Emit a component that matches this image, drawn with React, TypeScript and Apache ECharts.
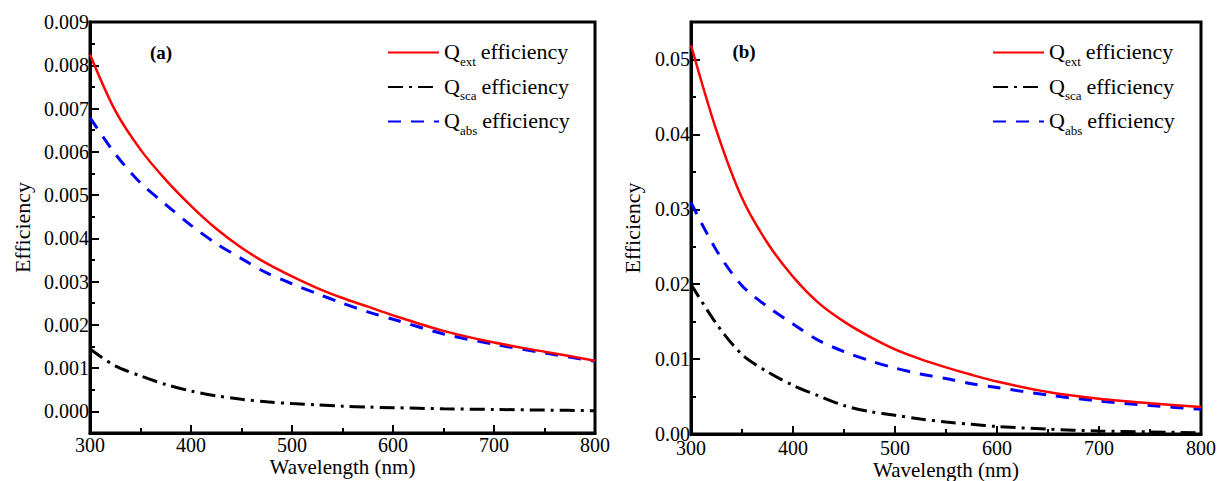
import React, { useEffect, useRef } from "react";
import * as echarts from "echarts";

const WL = [300, 325, 350, 375, 400, 425, 450, 475, 500, 525, 550, 575, 600, 650, 700, 750, 800];
const A_EXT = [0.00825, 0.00695, 0.00605, 0.00535, 0.00475, 0.00422, 0.00378, 0.00342, 0.00312, 0.00285, 0.00262, 0.00242, 0.00222, 0.00186, 0.00159, 0.00138, 0.00117];
const A_SCA = [0.00144, 0.00105, 0.00082, 0.00062, 0.00047, 0.00036, 0.00028, 0.00022, 0.00018, 0.00015, 0.00012, 0.0001, 0.000085, 0.00006, 0.000045, 0.00003, 0.000015];
const A_ABS = [0.00679, 0.00595, 0.00528, 0.00478, 0.0043, 0.00388, 0.00353, 0.0032, 0.00295, 0.00272, 0.0025, 0.0023, 0.00213, 0.00179, 0.00155, 0.00135, 0.00116];
const B_EXT = [0.0519, 0.0405, 0.0315, 0.0255, 0.021, 0.0175, 0.015, 0.013, 0.0113, 0.01, 0.0089, 0.0079, 0.007, 0.0056, 0.0047, 0.0041, 0.0036];
const B_SCA = [0.02, 0.0147, 0.0106, 0.0083, 0.0065, 0.0051, 0.0038, 0.003, 0.0025, 0.002, 0.0016, 0.0013, 0.001, 0.00065, 0.0004, 0.00028, 0.00015];
const B_ABS = [0.0309, 0.0245, 0.0198, 0.017, 0.0147, 0.0125, 0.011, 0.0098, 0.0088, 0.008, 0.0074, 0.0067, 0.0062, 0.0052, 0.0044, 0.0038, 0.0033];

const A_Y_TICKS = [0, 0.001, 0.002, 0.003, 0.004, 0.005, 0.006, 0.007, 0.008, 0.009];
const A_Y_MINOR = [0.0005, 0.0015, 0.0025, 0.0035, 0.0045, 0.0055, 0.0065, 0.0075, 0.0085];
const B_Y_TICKS = [0, 0.01, 0.02, 0.03, 0.04, 0.05];
const B_Y_MINOR = [0.005, 0.015, 0.025, 0.035, 0.045];

const SERIES_NAMES = ["Qext efficiency", "Qsca efficiency", "Qabs efficiency"];
const PANEL_LABELS = ["(a)", "(b)"];

const FONT = "Liberation Serif";

export default function App() {
  const ref = useRef<HTMLDivElement>(null);
  useEffect(() => {
    document.body.style.margin = "0";
    const chart = echarts.init(ref.current!, null, { renderer: "svg" });

    const grids = [
      { left: 90, top: 22, width: 505, height: 411 },
      { left: 691, top: 22, width: 510, height: 412 },
    ];

    const xAxisFor = (gi: number, labelMargin: number, nameGap: number) => ({
      type: "value",
      gridIndex: gi,
      min: 300,
      max: 800,
      interval: 100,
      name: "Wavelength (nm)",
      nameLocation: "middle",
      nameGap,
      nameMoveOverlap: false,
      nameTextStyle: { fontFamily: FONT, fontSize: 21, lineHeight: 18, color: "#000" },
      axisLine: { show: true, onZero: false, lineStyle: { color: "#000", width: 3 } },
      axisTick: { show: true, inside: true, length: 8, lineStyle: { color: "#000", width: 2 } },
      minorTick: { show: true, splitNumber: 2, length: 5, lineStyle: { color: "#000", width: 2 } },
      axisLabel: { fontFamily: FONT, fontSize: 20, lineHeight: 16, color: "#000", margin: labelMargin },
      splitLine: { show: false },
      minorSplitLine: { show: false },
    });

    const yAxisMajor = (gi: number, min: number, max: number, ticks: number[], digits: number, gap: number) => ({
      type: "value",
      gridIndex: gi,
      min,
      max,
      name: "Efficiency",
      nameLocation: "middle",
      nameGap: gap,
      nameMoveOverlap: false,
      nameTextStyle: { fontFamily: FONT, fontSize: 22, color: "#000" },
      axisLine: { show: true, onZero: false, lineStyle: { color: "#000", width: 3 } },
      axisTick: { show: true, inside: true, length: 9, customValues: ticks, lineStyle: { color: "#000", width: 2 } },
      axisLabel: {
        fontFamily: FONT,
        fontSize: 20,
        lineHeight: 16,
        color: "#000",
        margin: 1,
        customValues: ticks,
        formatter: (v: number) => v.toFixed(digits),
      },
      splitLine: { show: false },
    });

    const yAxisMinor = (gi: number, min: number, max: number, ticks: number[]) => ({
      type: "value",
      gridIndex: gi,
      min,
      max,
      position: "left",
      axisLine: { show: false, onZero: false },
      axisTick: { show: true, inside: true, length: 5, customValues: ticks, lineStyle: { color: "#000", width: 2 } },
      axisLabel: { show: false },
      splitLine: { show: false },
    });

    const styles = [
      { color: "#ff0000", width: 2.5, type: "solid" as any },
      { color: "#000000", width: 3, type: [15, 6, 3, 6] as any },
      { color: "#0000ff", width: 3, type: [13, 10] as any },
    ];

    const panels = [
      [A_EXT, A_SCA, A_ABS],
      [B_EXT, B_SCA, B_ABS],
    ];

    const series: any[] = [];
    panels.forEach((arrs, pi) => {
      arrs.forEach((arr, si) => {
        series.push({
          type: "line",
          name: SERIES_NAMES[si],
          xAxisIndex: pi,
          yAxisIndex: pi * 2,
          data: WL.map((w, i) => [w, arr[i]]),
          showSymbol: false,
          symbol: "none",
          smooth: 0.3,
          lineStyle: styles[si],
          itemStyle: { color: styles[si].color },
          z: si === 0 ? 3 : 2,
        });
      });
    });

    const legendFor = (left: number) => ({
      orient: "vertical",
      left,
      top: 40.5,
      padding: 0,
      itemWidth: 51,
      itemHeight: 14,
      itemGap: 7.5,
      data: SERIES_NAMES,
      selectedMode: false,
      itemStyle: { opacity: 0 },
      formatter: (name: string) => {
        const sub = name.split(" ")[0].slice(1);
        return `{q|Q}{s|${sub}}{e|efficiency}`;
      },
      textStyle: {
        fontFamily: FONT,
        color: "#000",
        rich: {
          q: { fontFamily: FONT, fontSize: 22, lineHeight: 24, verticalAlign: "top", color: "#000" },
          s: { fontFamily: FONT, fontSize: 13, lineHeight: 14, padding: [14, 0, 0, 0], verticalAlign: "top", color: "#000" },
          e: { fontFamily: FONT, fontSize: 22, lineHeight: 24, padding: [0, 0, 0, 5], verticalAlign: "top", color: "#000" },
        },
      },
    });

    chart.setOption({
      animation: false,
      backgroundColor: "#fff",
      grid: grids.map((g) => ({
        ...g,
        show: true,
        borderColor: "#000",
        borderWidth: 3,
        backgroundColor: "transparent",
        containLabel: false,
        outerBoundsMode: "none",
      })),
      xAxis: [xAxisFor(0, 4, 24.5), xAxisFor(1, 6, 26.5)],
      yAxis: [
        yAxisMajor(0, -0.0005, 0.009, A_Y_TICKS, 3, 57),
        yAxisMinor(0, -0.0005, 0.009, A_Y_MINOR),
        yAxisMajor(1, 0, 0.055, B_Y_TICKS, 2, 48),
        yAxisMinor(1, 0, 0.055, B_Y_MINOR),
      ],
      legend: [legendFor(387), legendFor(992)],
      graphic: [
        {
          type: "text",
          x: 161,
          y: 52,
          style: { text: PANEL_LABELS[0], font: `bold 19px ${FONT}`, fill: "#000", align: "center", verticalAlign: "middle" },
        },
        {
          type: "text",
          x: 744,
          y: 51,
          style: { text: PANEL_LABELS[1], font: `bold 19px ${FONT}`, fill: "#000", align: "center", verticalAlign: "middle" },
        },
      ],
      series,
    });
    return () => chart.dispose();
  }, []);
  return <div ref={ref} style={{ width: 1223, height: 481 }} />;
}
